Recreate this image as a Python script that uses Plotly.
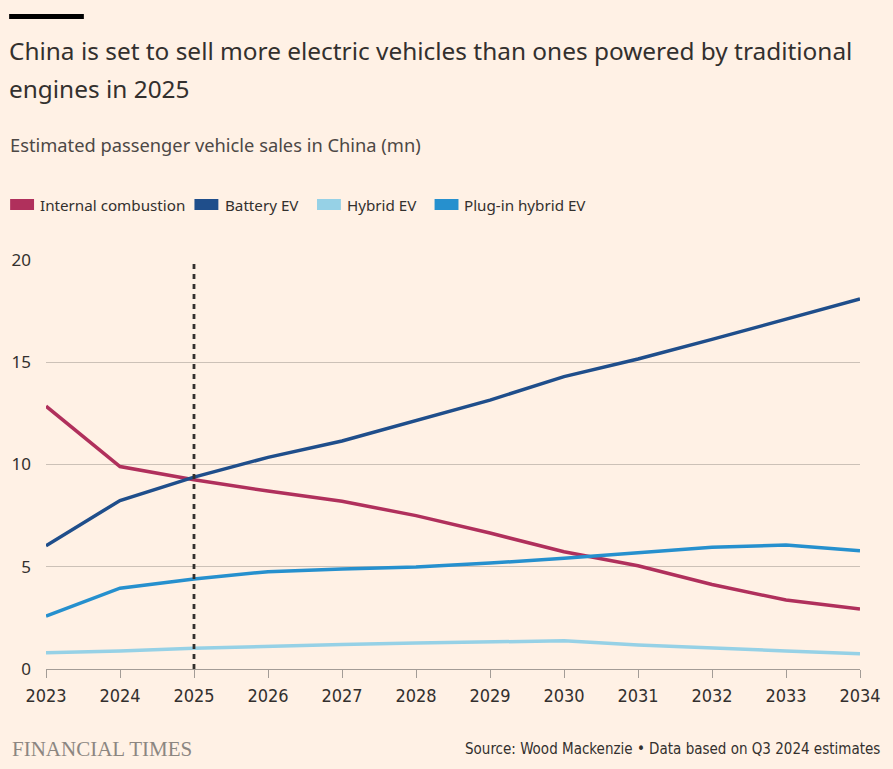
import plotly.graph_objects as go

years = [2023, 2024, 2025, 2026, 2027, 2028, 2029, 2030, 2031, 2032, 2033, 2034]
internal_combustion = [12.85, 9.9, 9.25, 8.7, 8.2, 7.5, 6.65, 5.73, 5.05, 4.13, 3.37, 2.93]
battery_ev = [6.03, 8.24, 9.38, 10.35, 11.15, 12.13, 13.15, 14.3, 15.16, 16.12, 17.11, 18.09]
hybrid_ev = [0.8, 0.88, 1.01, 1.12, 1.2, 1.27, 1.32, 1.38, 1.17, 1.01, 0.88, 0.75]
plugin_hybrid_ev = [2.59, 3.95, 4.4, 4.76, 4.89, 4.99, 5.18, 5.41, 5.69, 5.95, 6.06, 5.78]

series_names = ["Internal combustion", "Battery EV", "Hybrid EV", "Plug-in hybrid EV"]
series_values = [internal_combustion, battery_ev, hybrid_ev, plugin_hybrid_ev]
series_colors = ["#B0305C", "#1F4E8B", "#96D1E6", "#2690CE"]
y_ticks = [0, 5, 10, 15, 20]
marker_year = 2025

BG = "#FFF1E5"
TEXT = "#33302E"
GRID = "#CCC1B7"
COND = "DejaVu Sans Condensed, Roboto Condensed, Noto Sans, sans-serif"

W, H = 893, 769
L, R, T, B = 45, 31, 260, 100
PW, PH = W - L - R, H - T - B

def px(x):
    return (x - L) / PW

def py(y):
    return (H - B - y) / PH

fig = go.Figure()
for name, vals, col in zip(series_names, series_values, series_colors):
    fig.add_trace(go.Scatter(x=years, y=vals, mode="lines", name=name,
                             line=dict(color=col, width=3.5), showlegend=False))

shapes = []
annotations = []

# dashed marker line
shapes.append(dict(type="line", xref="x", yref="y", x0=marker_year, x1=marker_year,
                   y0=0, y1=20, line=dict(color="#33302E", width=2.8, dash="5px,5px")))

# top black bar
shapes.append(dict(type="rect", xref="paper", yref="paper", x0=px(8), x1=px(83),
                   y0=py(19), y1=py(14), fillcolor="#000000", line=dict(width=0)))

# legend swatches + labels
leg_items = [(9, 38), (194, 224), (317, 346), (435, 464)]
for (sx, tx), name, col in zip(leg_items, series_names, series_colors):
    shapes.append(dict(type="rect", xref="paper", yref="paper", x0=px(sx), x1=px(sx + 24),
                       y0=py(210), y1=py(199), fillcolor=col, line=dict(width=0)))
    annotations.append(dict(text=name, xref="paper", yref="paper", x=px(tx - 1), y=py(205),
                            xanchor="left", yanchor="middle", showarrow=False,
                            font=dict(family="Noto Sans", size=15.2, color=TEXT)))

# title (two lines)
for txt, yy in [("China is set to sell more electric vehicles than ones powered by traditional", 50),
                ("engines in 2025", 88)]:
    annotations.append(dict(text=txt, xref="paper", yref="paper", x=px(6), y=py(yy),
                            xanchor="left", yanchor="middle", showarrow=False,
                            font=dict(family="Noto Sans", size=24.4, color=TEXT)))
# subtitle
annotations.append(dict(text="Estimated passenger vehicle sales in China (mn)",
                        xref="paper", yref="paper", x=px(7), y=py(144), xanchor="left", yanchor="middle",
                        showarrow=False, font=dict(family="Noto Sans", size=18.3, color="#4D4845")))
# footer
annotations.append(dict(text="FINANCIAL TIMES", xref="paper", yref="paper", x=px(9), y=py(749),
                        xanchor="left", yanchor="middle", showarrow=False,
                        font=dict(family="Liberation Serif", size=21, color="#8C8681")))
annotations.append(dict(text="Source: Wood Mackenzie \u2022 Data based on Q3 2024 estimates",
                        xref="paper", yref="paper", x=px(884), y=py(749),
                        xanchor="right", yanchor="middle", showarrow=False,
                        font=dict(family=COND, size=15, color=TEXT)))

fig.update_layout(
    width=W, height=H,
    margin=dict(l=L, r=R, t=T, b=B, pad=0),
    paper_bgcolor=BG, plot_bgcolor=BG,
    shapes=shapes, annotations=annotations,
    showlegend=False,
    xaxis=dict(range=[2023, 2034], tickmode="array", tickvals=years,
               ticktext=[str(y) for y in years], showgrid=False, zeroline=False,
               showline=True, linecolor="#A39C96", linewidth=1,
               ticks="outside", ticklen=8, tickcolor="#A39C96", tickwidth=1,
               ticklabelstandoff=2,
               tickfont=dict(family=COND, size=18, color=TEXT),
               fixedrange=True),
    yaxis=dict(range=[0, 20], tickmode="array", tickvals=y_ticks,
               showgrid=True, gridcolor=GRID, gridwidth=1, zeroline=False,
               showline=False, ticks="", ticklabelstandoff=14,
               tickfont=dict(family="Noto Sans", size=17, color=TEXT),
               fixedrange=True),
)

fig.write_html("out.html")
